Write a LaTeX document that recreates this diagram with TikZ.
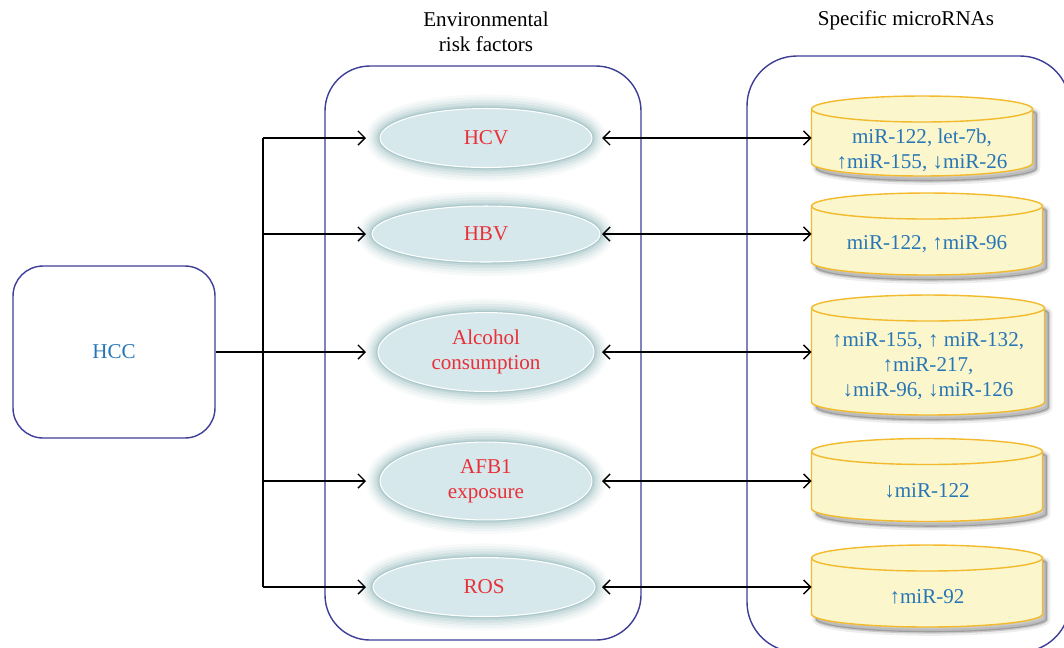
\documentclass[tikz,border=0pt]{standalone}
\usepackage{fontspec}
\setmainfont{Liberation Serif}
\usetikzlibrary{shapes.geometric,arrows.meta,calc}

\definecolor{frameblue}{RGB}{62,62,150}
\definecolor{textblue}{RGB}{38,118,182}
\definecolor{textred}{RGB}{232,48,56}
\definecolor{ovalfill}{RGB}{214,232,236}
\definecolor{ovalglow}{RGB}{110,160,165}
\definecolor{cylfill}{RGB}{251,246,204}
\definecolor{cylline}{RGB}{242,186,44}

\tikzset{
  frame/.style={draw=frameblue, line width=0.8pt},
  factor/.style={ellipse, fill=ovalfill, draw=white, line width=0.6pt,
    text=textred, align=center, minimum height=1.18cm,
    preaction={draw=ovalglow, line width=16pt, opacity=0.05},
    preaction={draw=ovalglow, line width=13pt, opacity=0.07},
    preaction={draw=ovalglow, line width=10pt, opacity=0.1},
    preaction={draw=ovalglow, line width=7pt, opacity=0.13},
    preaction={draw=ovalglow, line width=4pt, opacity=0.18},
    preaction={draw=ovalglow, line width=2pt, opacity=0.25}},
  cylbox/.style={inner sep=0pt, outer sep=0pt, minimum width=4.62cm, minimum height=1.64cm},
  cylshade/.style={transform canvas={shift={(2.5pt,-3pt)}}, fill=black, draw=black},
  mirtext/.style={text=textblue, align=center},
  link/.style={line width=0.8pt, -{Straight Barb[length=4pt,width=8pt]}},
  dlink/.style={line width=0.8pt, {Straight Barb[length=4pt,width=8pt]}-{Straight Barb[length=4pt,width=8pt]}}
}

% cylinder outline round a box node
\newcommand{\cylpath}[1]{%
    let \p1=(#1.north west), \p2=(#1.south east), \n1={(\x2-\x1)/2} in
    ([yshift=-0.26cm]#1.north west) -- ([yshift=0.26cm]#1.south west)
    arc[start angle=180, end angle=360, x radius=\n1, y radius=0.26cm]
    -- ([yshift=-0.26cm]#1.north east)
    arc[start angle=0, end angle=180, x radius=\n1, y radius=0.26cm] -- cycle}
\newcommand{\mircyl}[1]{%
  \path[cylshade, line width=4pt, opacity=0.07] \cylpath{#1};
  \path[cylshade, line width=1.5pt, opacity=0.15] \cylpath{#1};
  \path[fill=cylfill, draw=cylline, line width=0.8pt] \cylpath{#1};
  \draw[cylline, line width=0.8pt]
    let \p1=(#1.north west), \p2=(#1.south east), \n1={(\x2-\x1)/2} in
    ([yshift=-0.26cm]#1.north west)
    arc[start angle=180, end angle=360, x radius=\n1, y radius=0.26cm];
}

\begin{document}
\begin{tikzpicture}[x=0.02cm, y=-0.02cm, font=\fontsize{12}{14.2}\selectfont]
    \clip (0,0) rectangle (1064,647);

    % Containers and titles
    \draw[frame, rounded corners=0.9cm] (325,66) rectangle (641,640);
    \draw[frame, rounded corners=1cm] (747,56) rectangle (1070,652);
    \node[align=center] (envtitle) at (486,32) {Environmental\\risk factors};
    \node (mirtitle) at (906,20) {Specific microRNAs};

    % HCC
    \node[frame, rounded corners=0.6cm, minimum width=4.04cm, minimum height=3.44cm,
      text=textblue] (hcc) at (114,352) {HCC};

    % Risk factors
    \node[factor, minimum width=4.24cm] (hcv) at (486,138) {HCV};
    \node[factor, minimum width=4.56cm, minimum height=1.12cm] (hbv) at (486,234) {HBV};
    \node[factor, minimum width=4.32cm, minimum height=1.2cm] (alc) at (486,352) {Alcohol\\consumption};
    \node[factor, minimum width=4.24cm] (afb) at (486,481) {AFB1\\exposure};
    \node[factor, minimum width=4.44cm] (ros) at (484,587) {ROS};

    % microRNA cylinders
    \node[cylbox, minimum width=4.42cm, minimum height=1.6cm] (cyl1) at (922,136) {};
    \node[cylbox] (cyl2) at (927,234) {};
    \node[cylbox, minimum width=4.66cm, minimum height=2.4cm] (cyl3) at (928,355) {};
    \node[cylbox, minimum height=1.66cm] (cyl4) at (927,480) {};
    \node[cylbox] (cyl5) at (927,586) {};
    \foreach \cy in {cyl1,cyl2,cyl3,cyl4,cyl5} {
        \mircyl{\cy}
    }

    \node[mirtext] (mir1) at (922,150) {miR-122, let-7b,\\↑miR-155, ↓miR-26};
    \node[mirtext] (mir2) at (927,244) {miR-122, ↑miR-96};
    \node[mirtext] (mir3) at (928,366) {↑miR-155, ↑ miR-132,\\↑miR-217,\\↓miR-96, ↓miR-126};
    \node[mirtext] (mir4) at (927,491) {↓miR-122};
    \node[mirtext] (mir5) at (927,597) {↑miR-92};

    % Arrows
    \coordinate (trunk) at (263,352);
    \coordinate (ltip) at (366,352);
    \coordinate (rtip) at (602,352);
    \draw[line width=0.8pt] (trunk |- hcv) -- (trunk |- ros);
    \draw[link] (hcc) -- (ltip |- alc);
    \foreach \f in {hcv,hbv,afb,ros}
        \draw[link] (trunk |- \f) -- (ltip |- \f);
    \draw[dlink] (rtip |- hcv) -- (hcv -| cyl1.west);
    \draw[dlink] (rtip |- hbv) -- (hbv -| cyl2.west);
    \draw[dlink] (rtip |- alc) -- (alc -| cyl3.west);
    \draw[dlink] (rtip |- afb) -- (afb -| cyl4.west);
    \draw[dlink] (rtip |- ros) -- (ros -| cyl5.west);
\end{tikzpicture}
\end{document}
